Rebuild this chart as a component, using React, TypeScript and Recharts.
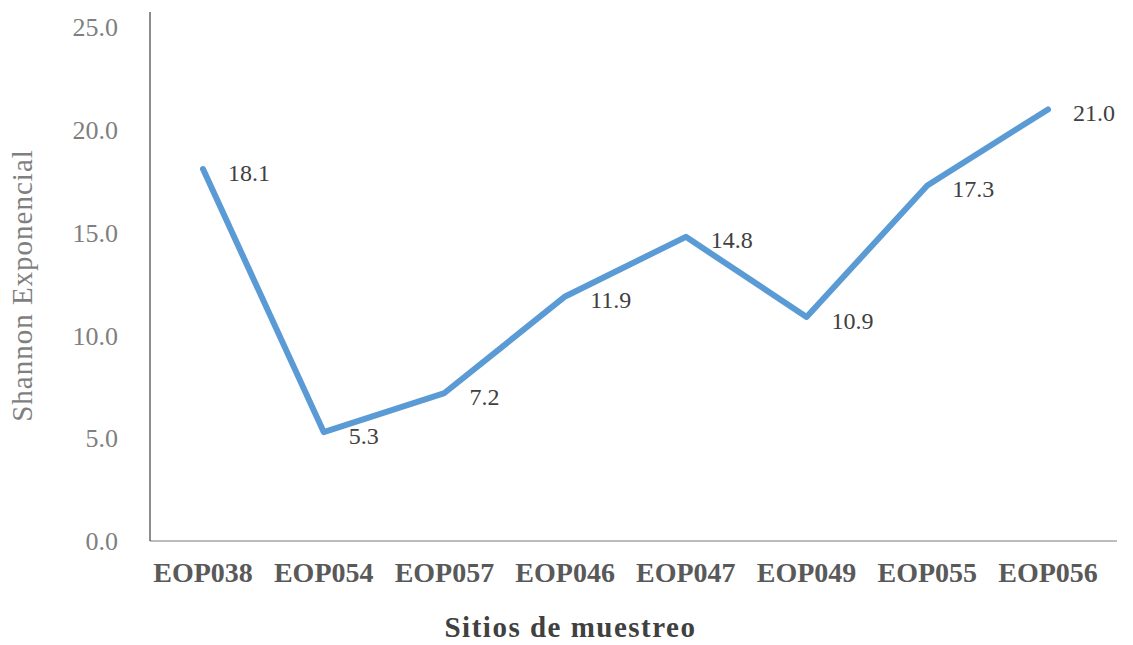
import { CartesianGrid, Label, LabelList, Line, LineChart, XAxis, YAxis } from "recharts";

// Exponential Shannon diversity per sampling site
const sites = ["EOP038", "EOP054", "EOP057", "EOP046", "EOP047", "EOP049", "EOP055", "EOP056"];
const shannonExp = [18.1, 5.3, 7.2, 11.9, 14.8, 10.9, 17.3, 21.0];
const yTicks = [0, 5, 10, 15, 20, 25];

const data = sites.map((site, i) => ({ site, value: shannonExp[i] }));

const serif = "'Liberation Serif', 'Times New Roman', serif";

function PointLabel(props: any) {
  const { x, y, value } = props;
  return (
    <text x={x + 25} y={y + 3} dy="0.355em" fontFamily={serif} fontSize={24} fill="#404040">
      {Number(value).toFixed(1)}
    </text>
  );
}

export default function App() {
  return (
    <div style={{ position: "absolute", left: 0, top: 0, background: "#fff" }}>
      <LineChart width={1133} height={645} data={data} margin={{ top: 12, right: 16, bottom: 74, left: 0 }}>
        <CartesianGrid horizontal={false} vertical={false} />
        <XAxis
          dataKey="site"
          padding={{ left: 53, right: 69 }}
          tickSize={0}
          tickMargin={21}
          stroke="#7a7a7a"
          tick={{ fontFamily: serif, fontSize: 28, fontWeight: 700, fill: "#595959" }}
          label={
            <Label
              content={(p: any) => {
                const vb = p.viewBox;
                return (
                  <text
                    x={vb.x + vb.width / 2 - 63}
                    y={637}
                    textAnchor="middle"
                    fontFamily={serif}
                    fontSize={29}
                    fontWeight={700}
                    letterSpacing={1.5}
                    fill="#404040"
                  >
                    Sitios de muestreo
                  </text>
                );
              }}
            />
          }
        />
        <YAxis
          width={150}
          domain={[0, 25.74]}
          ticks={yTicks}
          tickFormatter={(v: number) => v.toFixed(1)}
          tickSize={0}
          tickMargin={32}
          stroke="#1a1a1a"
          tick={{ fontFamily: serif, fontSize: 26, fill: "#7f7f7f" }}
          label={
            <Label
              content={(p: any) => {
                const vb = p.viewBox;
                const cy = vb.y + vb.height / 2 + 9;
                return (
                  <text
                    x={22}
                    y={cy}
                    transform={`rotate(-90 22 ${cy})`}
                    textAnchor="middle"
                    dominantBaseline="central"
                    fontFamily={serif}
                    fontSize={29}
                    letterSpacing={1}
                    fill="#7f7f7f"
                  >
                    Shannon Exponencial
                  </text>
                );
              }}
            />
          }
        />
        <Line
          type="linear"
          dataKey="value"
          stroke="#5b9bd5"
          strokeWidth={6}
          strokeLinecap="round"
          strokeLinejoin="round"
          dot={false}
          activeDot={false}
          isAnimationActive={false}
        >
          <LabelList dataKey="value" content={<PointLabel />} />
        </Line>
      </LineChart>
    </div>
  );
}
